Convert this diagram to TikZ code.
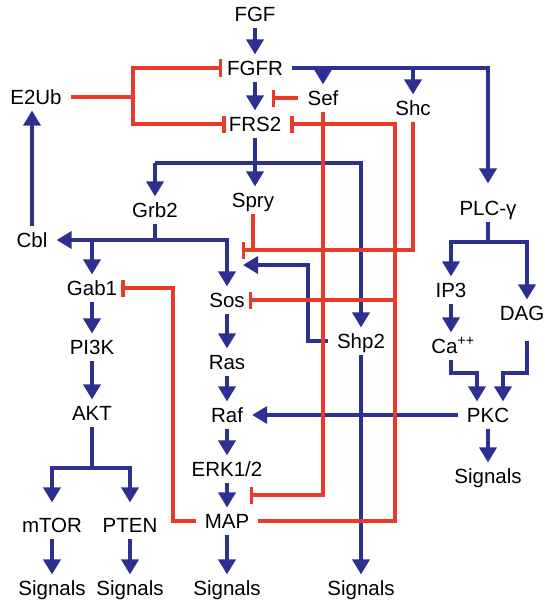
\documentclass[tikz,border=0pt]{standalone}
\usepackage{fontspec}
\setmainfont{Liberation Sans}
\usetikzlibrary{arrows.meta,calc}
\definecolor{pathBlue}{RGB}{45,47,145}
\definecolor{pathRed}{RGB}{232,58,40}

\begin{document}
\begin{tikzpicture}[x=1pt,y=-1pt,
      gene/.style={inner xsep=9pt,inner ysep=6pt,text height=14.7pt,text depth=0pt,
        font=\fontsize{20.5}{24}\selectfont,text=black},
      act/.style={draw=pathBlue,line width=3.5pt,-{Triangle[width=17pt,length=15pt]}},
      link/.style={draw=pathBlue,line width=3.5pt},
      inh/.style={draw=pathRed,line width=3.4pt,-{Bar[width=17pt]}},
      rline/.style={draw=pathRed,line width=3.4pt}]
    \useasboundingbox (0,0) rectangle (545,602);

    % Recepteur et adaptateurs.
    \node[gene] (fgf) at (255,14) {FGF};
    \node[gene] (fgfr) at (255,68) {FGFR};
    \node[gene] (frs) at (255,124) {FRS2};
    \node[gene] (eub) at (36,97) {E2Ub};
    \node[gene] (sef) at (323,98) {Sef};
    \node[gene] (shc) at (413,108) {Shc};
    \node[gene] (spry) at (253,200) {Spry};
    \node[gene] (grb) at (155,210) {Grb2};
    \node[gene] (cbl) at (32,240) {Cbl};

    % Voies PI3K et MAPK.
    \node[gene] (gab) at (92,288) {Gab1};
    \node[gene] (pik) at (92,347) {PI3K};
    \node[gene] (akt) at (92,413) {AKT};
    \node[gene] (mtor) at (52,525) {mTOR};
    \node[gene] (pten) at (130,525) {PTEN};
    \node[gene] (sos) at (227,300) {Sos};
    \node[gene] (ras) at (227,362) {Ras};
    \node[gene] (raf) at (227,415) {Raf};
    \node[gene] (erk) at (227,469) {ERK1/2};
    \node[gene] (map) at (227,521) {MAP};
    \node[gene] (shp) at (361,341) {Shp2};

    % Voie PLC.
    \node[gene] (plc) at (488,208) {PLC-γ};
    \node[gene] (ipt) at (451,290) {IP3};
    \node[gene] (dag) at (522,313) {DAG};
    \coordinate (dagx) at (527,313);
    \node[gene] (ca) at (453,346) {Ca\textsuperscript{++}};
    \node[gene] (pkc) at (488,415) {PKC};

    \foreach \n/\x in {mtor/52,pten/130,map/227,shp/361}
      \node[gene] (sig-\n) at (\x,588) {Signals};
    \node[gene] (sig-pkc) at (488,476) {Signals};

    % Activations directes.
    \foreach \a/\b in {fgf/fgfr,fgfr/frs,gab/pik,pik/akt,sos/ras,ras/raf,raf/erk,
        erk/map,map/sig-map,mtor/sig-mtor,pten/sig-pten,shp/sig-shp,pkc/sig-pkc,pkc/raf}
      \draw[act] (\a) -- (\b);
    \draw[act] (ipt) -- (ipt|-ca.north);
    \draw[act] (frs) -- (frs|-spry.north);
    \draw[act] (cbl) -- (cbl|-eub.south);

    % Branches de FGFR.
    \draw[act,shorten >=11pt] (fgfr.east) -| (plc.north);
    \draw[act] (sef.north|-fgfr) -- (sef.north);
    \draw[act] (shc.north|-fgfr) -- (shc.north);

    % Branches de FRS2 et Grb2.
    \coordinate (jfrs) at (255,163);
    \draw[act] (grb.north|-jfrs) -- (grb.north);
    \draw[act] (grb.north|-jfrs) -| (shp.north);
    \coordinate (jgrb) at (155,240);
    \draw[link] (grb) -- (jgrb);
    \draw[act] (jgrb) -- (cbl);
    \draw[act] (jgrb) -| (sos.north);
    \draw[act] (gab.north|-jgrb) -- (gab.north);
    \coordinate (shpbend) at (308,265);
    \coordinate (sosin) at (243,265);
    \draw[act] (shp.west) -| (shpbend) -- (sosin);

    % Branches de AKT et PLC.
    \coordinate (jakt) at (92,468);
    \draw[link] (akt) -- (jakt);
    \draw[act,shorten >=9pt] (jakt) -| (mtor.north);
    \draw[act,shorten >=9pt] (jakt) -| (pten.north);
    \coordinate (jplc) at (488,242);
    \draw[link] (plc) -- (jplc);
    \draw[act] (jplc) -| (ipt.north);
    \draw[act] (jplc) -| (dagx|-dag.north);
    \coordinate (jca) at (477,373);
    \coordinate (jdag) at (503,373);
    \draw[act] (ca.south-|ipt) |- (jca) -- (jca|-pkc.north);
    \draw[act,shorten <=14pt] (dagx|-dag.south) |- (jdag) -- (jdag|-pkc.north);

    % Inhibitions.
    \coordinate (jeub) at (133,97);
    \draw[rline] (eub) -- (jeub);
    \draw[inh,shorten >=-4pt] (jeub) |- (fgfr.west);
    \draw[inh,shorten >=-6pt] (jeub) |- (frs.west);
    \coordinate (sefhit) at (272,98);
    \draw[inh] (sef) -- (sefhit);
    \coordinate (erkhit) at (250,495);
    \draw[inh] (sef.south) |- (erkhit);
    \coordinate (soshit) at (242,250);
    \draw[inh] (shc.south) |- (soshit);
    \draw[rline] (spry.south) -- (spry.south|-soshit);
    \coordinate (jmap) at (395,521);
    \coordinate (jsos) at (395,300);
    \draw[inh] (map.east) -- (jmap) |- (frs.east);
    \draw[inh,shorten >=-5pt] (jsos) -- (sos.east);
    \coordinate (jgab) at (173,521);
    \draw[inh,shorten >=-5pt] (map.west) -- (jgab) |- (gab.east);
  \end{tikzpicture}
\end{document}
